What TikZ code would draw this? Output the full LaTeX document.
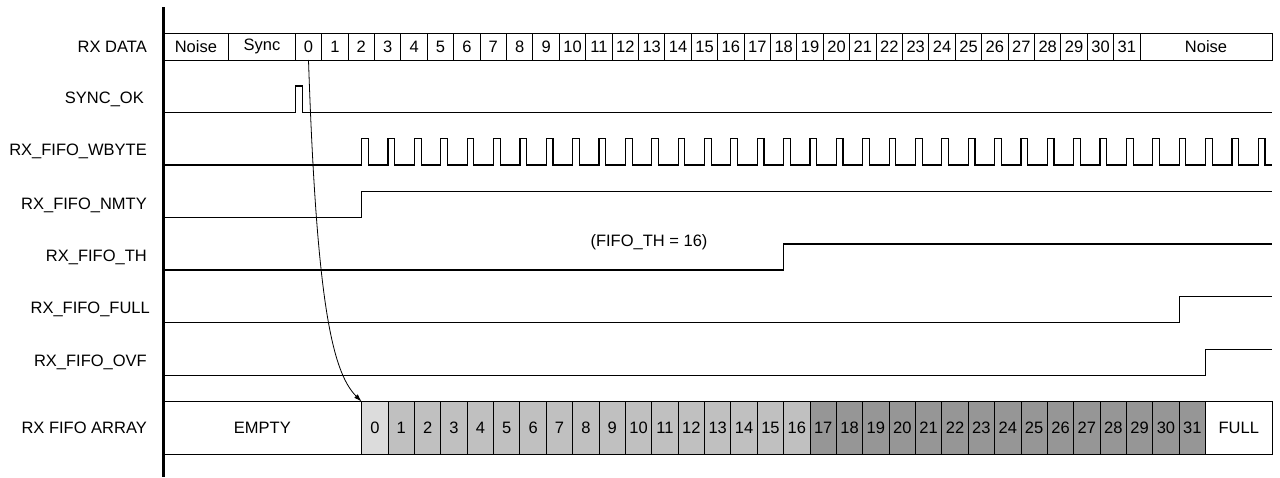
\documentclass[tikz,border=0pt]{standalone}
\usepackage{fontspec}
\setmainfont{Liberation Sans}
\usetikzlibrary{positioning, arrows.meta}
\definecolor{cellnew}{HTML}{DCDCDC}
\definecolor{cellbelow}{HTML}{C0C0C0}
\definecolor{cellabove}{HTML}{969696}

\begin{document}
\begin{tikzpicture}[x=1pt, y=-1pt,
  every node/.style={font=\fontsize{16.5}{19}\selectfont},
  siglabel/.style={anchor=east, inner sep=0pt},
  datacell/.style={draw, line width=0.9pt, anchor=west, inner sep=0pt, outer sep=0pt, minimum height=27pt},
  fifocell/.style={draw, line width=0.9pt, anchor=west, inner sep=0pt, outer sep=0pt, minimum height=52.6pt},
  wave/.style={line width=1.2pt},
  axis/.style={line width=3pt},
  arrow/.style={-{Latex[length=8pt, width=5pt]}, line width=0.8pt}
]
  \useasboundingbox (0,0) rectangle (1280,477);

  \node[siglabel] (lrxdata) at (147,46.5) {RX DATA};
  \node[siglabel] (lsync) at (144,99) {SYNC\_OK};
  \node[siglabel] (lwbyte) at (147,151.7) {RX\_FIFO\_WBYTE};
  \node[siglabel] (lnmty) at (147,205) {RX\_FIFO\_NMTY};
  \node[siglabel] (lth) at (147,257) {RX\_FIFO\_TH};
  \node[siglabel] (lfull) at (150,309.5) {RX\_FIFO\_FULL};
  \node[siglabel] (lovf) at (147,362) {RX\_FIFO\_OVF};
  \node[siglabel] (larray) at (147,428) {RX FIFO ARRAY};

  \node[datacell, minimum width=65.7pt] (dnoise) at (163,46.5) {Noise};
  \node[datacell, minimum width=66.6pt] (dsync) at (228.7,46.5) {Sync};
  \foreach \j in {0,...,31}
    \node[datacell, minimum width=26.4pt] (d\j) at ({295.3+26.4*\j},46.5) {\j};
  \node[datacell, minimum width=132pt] (dnoise2) at (1140,46.5) {Noise};

  \node[fifocell, minimum width=198.7pt] (aempty) at (163,428) {EMPTY};
  \node[fifocell, fill=cellnew, minimum width=26.37pt] (a0) at (361.7,428) {0};
  \foreach \k in {1,...,16}
    \node[fifocell, fill=cellbelow, minimum width=26.37pt] (a\k) at ({361.7+26.37*\k},428) {\k};
  \foreach \k in {17,...,31}
    \node[fifocell, fill=cellabove, minimum width=26.37pt] (a\k) at ({361.7+26.37*\k},428) {\k};
  \node[fifocell, minimum width=66.5pt] (afull) at (1205.5,428) {FULL};

  \draw[axis] (163,7) -- (163,477);

  \draw[wave] (163,112.3) -- (295.3,112.3) -- (295.3,86) -- (302.3,86) -- (302.3,112.3) -- (1272,112.3);
  \draw[wave] (163,165) \foreach \k in {0,...,34}{ -- ({361.7+26.37*\k},165) -- ++(0,-26.5) -- ++(6.7,0) -- ++(0,26.5)} -- (1272,165);
  \draw[wave] (163,217.5) -- (361.7,217.5) -- (361.7,191.5) -- (1272,191.5);
  \draw[wave] (163,270) -- (783.6,270) -- (783.6,244) -- (1272,244);
  \node (thnote) at (649,242) {(FIFO\_TH = 16)};
  \draw[wave] (163,322.7) -- (1179.2,322.7) -- (1179.2,296.7) -- (1272,296.7);
  \draw[wave] (163,375.5) -- (1205.5,375.5) -- (1205.5,349.3) -- (1272,349.3);

  \draw[arrow] (d0.south) .. controls +(8,240) and +(-30,-30) .. (a0.north west);
\end{tikzpicture}
\end{document}
